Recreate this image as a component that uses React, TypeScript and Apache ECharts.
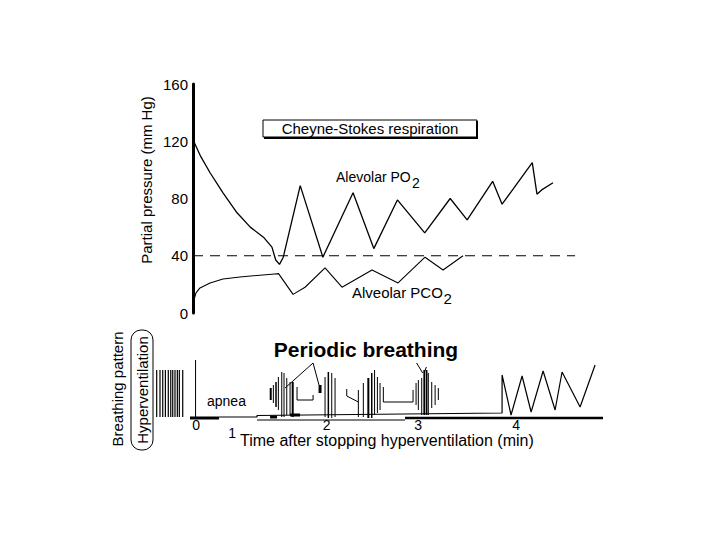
import React, { useEffect, useRef } from "react";
import * as echarts from "echarts";

const FONT = "'Liberation Sans', Arial, Helvetica, sans-serif";

// ---------- Upper panel: partial pressure (mm Hg) vs time (min) ----------
const pressureTicks = [0, 40, 80, 120, 160];
const po2: number[][] = [
  [0.583, 121], [0.66, 110], [0.764, 98], [0.901, 84], [1.05, 70], [1.19, 60],
  [1.33, 53], [1.42, 46], [1.46, 37], [1.5, 34], [1.54, 39], [1.72, 89],
  [1.96, 39], [2.28, 84], [2.5, 45], [2.75, 79], [3.04, 56], [3.31, 80],
  [3.49, 65], [3.76, 92], [3.86, 76], [4.18, 105], [4.23, 83], [4.28, 86], [4.4, 91],
];
const pco2: number[][] = [
  [0.583, 7], [0.615, 14], [0.657, 17.5], [0.764, 21], [0.901, 23.8], [1.08, 25.2],
  [1.45, 27.3], [1.49, 27.5], [1.644, 13], [1.771, 18], [1.983, 31.5], [2.163, 18],
  [2.481, 30], [2.757, 21], [3.043, 39], [3.234, 30], [3.446, 40],
];
const normalLevel: number[][] = [[0.583, 40], [4.634, 40]];

// ---------- Lower panel: breathing pattern ----------
const hyperT = [0.198, 0.233, 0.262, 0.29, 0.321, 0.347, 0.368, 0.392, 0.417, 0.438, 0.474];
const hyperH = [47, 47, 47, 47, 47, 47, 47, 47, 47, 47, 47];
const patternAxis: number[][] = [[0.61, 0], [0.61, 58]];

// segments: [t1, v1, t2, v2, width]
const cluster1: number[][] = [
  [1.407, 18, 1.407, 30, 2], [1.435, 15, 1.435, 33, 1], [1.463, 11, 1.463, 36, 1.5],
  [1.488, 8, 1.488, 41, 1], [1.524, 1, 1.524, 46, 1], [1.548, 1, 1.548, 45, 1],
  [1.577, 3, 1.577, 40, 1], [1.612, 3, 1.612, 36, 1], [1.64, 1, 1.64, 36, 2],
];
const cluster2: number[][] = [
  [1.93, 25, 1.93, 33, 3], [1.983, 1, 1.983, 41, 1], [2.018, 0, 2.018, 46, 1.5],
  [2.054, 0, 2.054, 45, 1], [2.089, 1, 2.089, 40, 1],
  [2.336, 1, 2.336, 28, 1], [2.389, 1, 2.389, 35, 1], [2.442, 0, 2.442, 40, 2],
  [2.478, 0, 2.478, 45, 1.5], [2.508, 3, 2.508, 48, 1], [2.538, 5, 2.538, 41, 1],
  [2.566, 8, 2.566, 35, 1],
];
const cluster3: number[][] = [
  [2.948, 13, 2.948, 35, 1], [2.972, 8, 2.972, 38, 1], [3.008, 3, 3.008, 40, 1],
  [3.036, 3, 3.036, 48, 2], [3.061, 3, 3.061, 48, 1.5], [3.078, 3, 3.078, 45, 1],
  [3.114, 10, 3.114, 36, 1], [3.15, 13, 3.15, 33, 1], [3.184, 18, 3.184, 30, 1],
  [2.954, 55, 3.018, 45, 1], [3.057, 51, 3.033, 45, 1],
];
const baseMarks: number[][] = [
  [0.551, 0, 0.859, 0, 3], [1.4, 1, 1.474, 1, 3], [1.612, 3, 1.718, 3, 3],
  [1.262, -2, 2.831, -2, 1], [2.831, 0, 4.93, 0, 2.5],
];
const connectors: number[][][] = [
  [[1.686, 31], [1.686, 18], [1.856, 18], [1.856, 23]],
  [[1.559, 30], [1.856, 55], [1.919, 33]],
  [[2.213, 29], [2.213, 22], [2.336, 16]],
  [[2.601, 31], [2.601, 16], [2.916, 16], [2.916, 28]],
];
const stepAndRecovery: number[][] = [
  [0.859, 1], [1.262, 1], [1.262, 2.5], [3.86, 5], [3.86, 43], [3.955, 3],
  [4.072, 42], [4.168, 6], [4.295, 47], [4.422, 8], [4.496, 46], [4.687, 11], [4.846, 53],
];

const timeTickPos = [0.615, 0.997, 1.999, 2.969, 4.008];
const timeTickText = ["0", "1", "2", "3", "4"];

const segSeries = (data: number[][]) => ({
  type: "custom",
  xAxisIndex: 1,
  yAxisIndex: 1,
  data,
  silent: true,
  encode: { x: [0, 2], y: [1, 3] },
  renderItem: (_p: any, api: any) => {
    const a = api.coord([api.value(0), api.value(1)]);
    const b = api.coord([api.value(2), api.value(3)]);
    return {
      type: "line",
      shape: { x1: a[0], y1: a[1], x2: b[0], y2: b[1] },
      style: { stroke: "#000", lineWidth: api.value(4), lineCap: "butt" },
    };
  },
});

const lineSeries = (data: number[][], idx: number, width: number, dash?: number[]) => ({
  type: "line",
  xAxisIndex: idx,
  yAxisIndex: idx,
  data,
  symbol: "none",
  silent: true,
  clip: false,
  lineStyle: { color: "#000", width, type: dash || "solid" },
});

export default function App() {
  const ref = useRef<HTMLDivElement>(null);
  useEffect(() => {
    if (!ref.current) return;
    const chart = echarts.init(ref.current, null, { renderer: "svg" });
    const txt = (text: string, x: number, y: number, size: number, extra: any = {}) => ({
      type: "text",
      x,
      y,
      silent: true,
      ...extra,
      style: {
        text,
        fill: "#000",
        fontSize: size,
        fontFamily: FONT,
        align: "left",
        verticalAlign: "middle",
        ...(extra.style || {}),
      },
    });
    const graphics: any[] = [
      { type: "rect", silent: true, shape: { x: 263, y: 120, width: 214, height: 17 }, style: { fill: "#fff", stroke: "#000", lineWidth: 1 } },
      { type: "polyline", silent: true, shape: { points: [[477, 121], [477, 138], [264, 138]] }, style: { fill: "none", stroke: "#000", lineWidth: 2 } },
      txt("Cheyne-Stokes respiration", 370, 128.5, 15, { style: { align: "center" } }),
      txt("Alevolar PO", 336, 177, 14),
      txt("2", 412, 183, 14),
      txt("Alveolar PCO", 352, 292, 15),
      txt("2", 443.5, 298, 15),
      txt("Partial pressure (mm Hg)", 146, 180, 15, { rotation: Math.PI / 2, style: { align: "center" } }),
      txt("Breathing pattern", 117, 389, 15, { rotation: Math.PI / 2, style: { align: "center" } }),
      { type: "rect", silent: true, shape: { x: 131, y: 330, width: 22, height: 120, r: 10 }, style: { fill: "none", stroke: "#000", lineWidth: 1 } },
      txt("Hyperventilation", 142, 390, 15, { rotation: Math.PI / 2, style: { align: "center" } }),
      txt("Periodic breathing", 366, 349, 21, { style: { align: "center", fontWeight: "bold" } }),
      txt("apnea", 207, 401, 14),
      txt("Time after stopping hyperventilation (min)", 240, 440, 16),
    ];
    const option: any = {
      animation: false,
      backgroundColor: "#fff",
      grid: [
        { left: 193, top: 84, width: 410, height: 229 },
        { left: 150, top: 356, width: 453, height: 87 },
      ],
      xAxis: [
        { type: "value", gridIndex: 0, min: 0.583, max: 4.93, show: false },
        { type: "value", gridIndex: 1, min: 0.127, max: 4.93, show: false },
      ],
      yAxis: [
        {
          type: "value",
          gridIndex: 0,
          min: pressureTicks[0],
          max: pressureTicks[pressureTicks.length - 1],
          interval: 40,
          axisLine: { show: true, lineStyle: { color: "#000", width: 3 } },
          axisTick: { show: false },
          splitLine: { show: false },
          axisLabel: { color: "#000", fontSize: 15, fontFamily: FONT, margin: 5 },
        },
        { type: "value", gridIndex: 1, min: -25, max: 62, show: false },
      ],
      series: [
        lineSeries(normalLevel, 0, 1, [10, 7]),
        lineSeries(po2, 0, 1.3),
        lineSeries(pco2, 0, 1.1),
        segSeries(hyperT.map((t, i) => [t, 1, t, 1 + hyperH[i], 1.2])),
        lineSeries(patternAxis, 1, 1),
        segSeries(cluster1),
        segSeries(cluster2),
        segSeries(cluster3),
        segSeries(baseMarks),
        ...connectors.map((c) => lineSeries(c, 1, 1)),
        lineSeries(stepAndRecovery, 1, 1.2),
      ],
      graphic: graphics,
    };
    chart.setOption(option);
    // time-axis tick labels placed through the lower panel's scales
    const tickGraphics = timeTickPos.map((t, i) => {
      const p = chart.convertToPixel({ gridIndex: 1 }, [t, i === 1 ? -15 : -7]) as number[];
      return txt(timeTickText[i], p[0], p[1], 14, { style: { align: "center" } });
    });
    chart.setOption({ graphic: [...graphics, ...tickGraphics] });
    return () => chart.dispose();
  }, []);
  return (
    <div
      ref={ref}
      style={{ position: "fixed", left: 0, top: 0, width: 720, height: 540, background: "#fff" }}
    />
  );
}
